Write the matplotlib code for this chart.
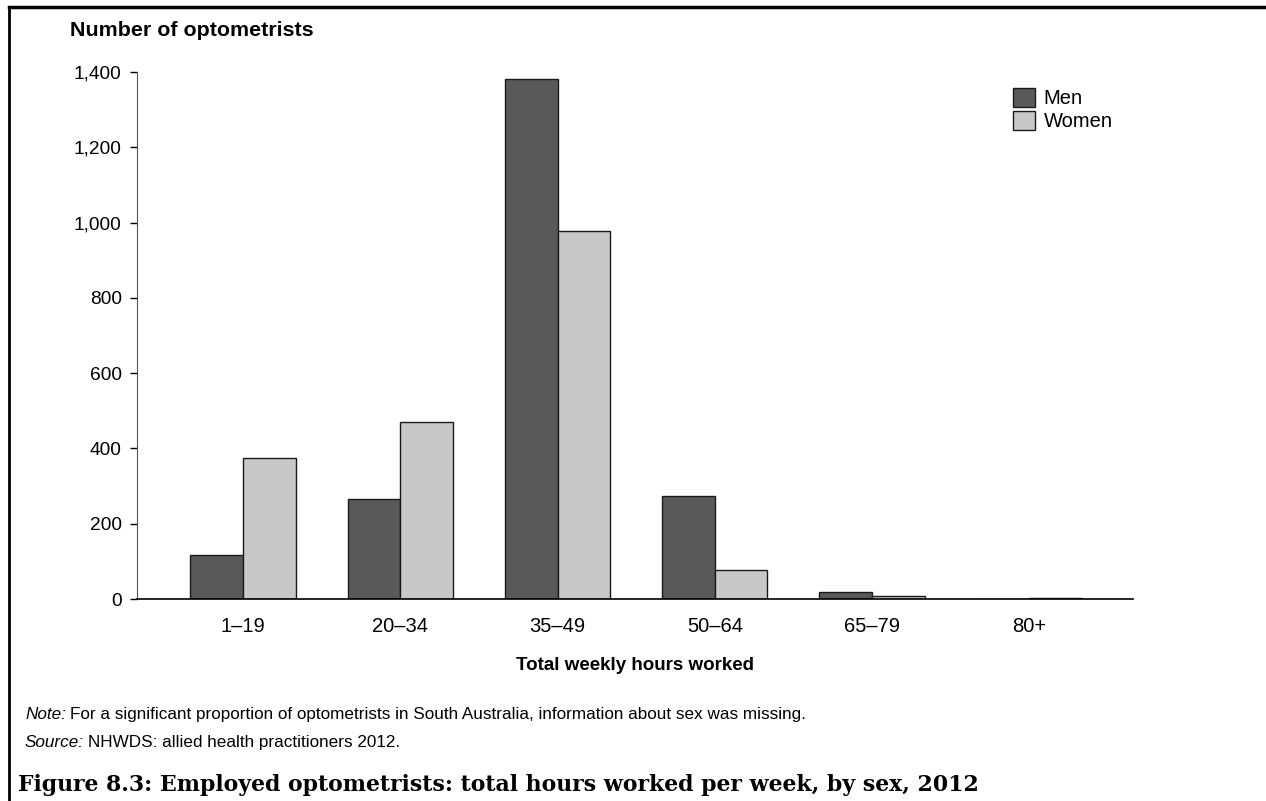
import matplotlib
matplotlib.use("Agg")
import matplotlib.pyplot as plt
import numpy as np
from matplotlib.lines import Line2D

categories = ["1\u201319", "20\u201334", "35\u201349", "50\u201364", "65\u201379", "80+"]
men = [117, 266, 1381, 274, 19, 0]
women = [375, 470, 978, 77, 9, 2]
yticks = [0, 200, 400, 600, 800, 1000, 1200, 1400]

plt.rcParams['font.family'] = ['Liberation Sans', 'DejaVu Sans']

fig = plt.figure(figsize=(12.66, 8.01), dpi=100)
ax = fig.add_axes([137/1266, 1-599/801, (1133-137)/1266, (599-72)/801])

x = np.arange(len(categories))
w = 0.335
ax.bar(x - w/2, men, w, color="#595959", edgecolor="#1a1a1a", linewidth=1.0, label="Men")
ax.bar(x + w/2, women, w, color="#c8c8c8", edgecolor="#1a1a1a", linewidth=1.0, label="Women")

ax.set_xlim(-0.675, 5.66)
ax.set_ylim(0, 1400)
ax.set_yticks(yticks)
ax.set_yticklabels([f"{v:,}" for v in yticks], fontsize=13.8)
ax.set_xticks(x)
ax.set_xticklabels(categories, fontsize=14.5)
ax.tick_params(axis='x', length=0, pad=13)
ax.tick_params(axis='y', length=5, width=1, pad=6, direction='out')
for s in ['top', 'right']:
    ax.spines[s].set_visible(False)
ax.spines['left'].set_color('#555555')
ax.spines['bottom'].set_linewidth(1.2)

ax.set_xlabel("Total weekly hours worked", fontsize=13.5, fontweight='bold', labelpad=15)

leg = ax.legend(loc='upper left', bbox_to_anchor=(0.871, 0.985), frameon=False,
                fontsize=14.5, handlelength=1.1, handleheight=1.1, handletextpad=0.45,
                labelspacing=0.12, borderaxespad=0)

fig.text(70/1266, 1-31/801, "Number of optometrists", fontsize=15.4, fontweight='bold',
         va='center', ha='left')


def mixed(y, ital, rest):
    t1 = fig.text(25/1266, 1-y/801, ital, fontsize=12.3, style='italic', va='baseline', ha='left')
    fig.canvas.draw()
    bb = t1.get_window_extent()
    fig.text((bb.x1 + 4)/1266, 1-y/801, rest, fontsize=12.3, va='baseline', ha='left')


mixed(719, "Note:", "For a significant proportion of optometrists in South Australia, information about sex was missing.")
mixed(747, "Source:", "NHWDS: allied health practitioners 2012.")

fig.text(18/1266, 1-785/801, "Figure 8.3: Employed optometrists: total hours worked per week, by sex, 2012",
         fontsize=15.8, fontweight='bold', family=['DejaVu Serif'],
         va='center', ha='left')

# figure border: left and top
fig.add_artist(Line2D([9/1266, 9/1266], [0, 1-7/801], transform=fig.transFigure,
                      color='black', linewidth=2))
fig.add_artist(Line2D([9/1266, 1], [1-7/801, 1-7/801], transform=fig.transFigure,
                      color='black', linewidth=2.5))

fig.savefig("out.png", dpi=100)
